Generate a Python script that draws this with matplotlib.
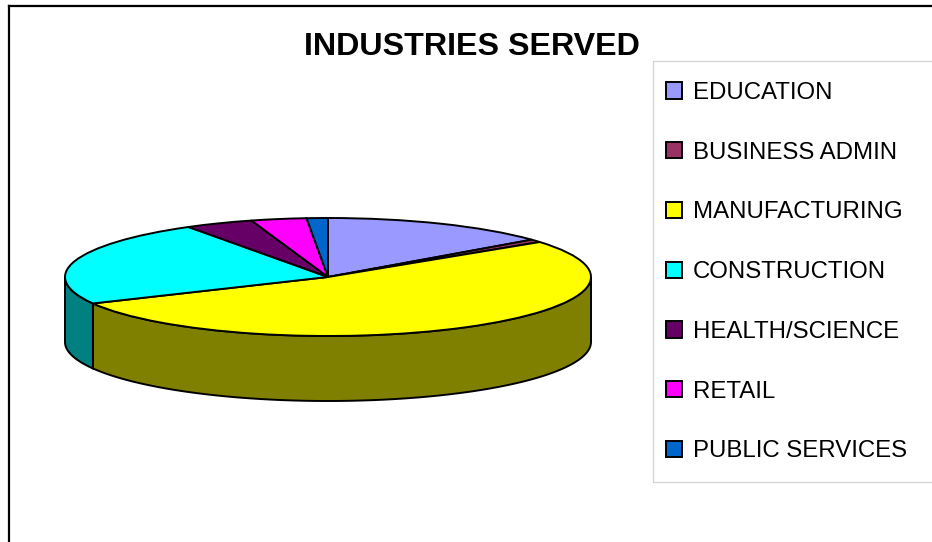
import numpy as np
import matplotlib
matplotlib.use('Agg')
import matplotlib.pyplot as plt
from matplotlib.lines import Line2D
from matplotlib.patches import Rectangle

plt.rcParams['font.family'] = ['Liberation Sans', 'DejaVu Sans']

labels = ['EDUCATION', 'BUSINESS ADMIN', 'MANUFACTURING', 'CONSTRUCTION',
          'HEALTH/SCIENCE', 'RETAIL', 'PUBLIC SERVICES']
values = [14.1, 0.8, 52.7, 23.5, 4.2, 3.4, 1.3]
colors = ['#9999FF', '#993366', '#FFFF00', '#00FFFF', '#660066', '#FF00FF', '#0066CC']

W, H = 932, 542
CX, CY, RX, RY = 328, 277, 263, 59
DEPTH = 65 / RY

fig = plt.figure(figsize=(W / 100, H / 100), dpi=100)
ax = fig.add_axes([0, 0, 1, 1])

wedges, _ = ax.pie(values, colors=colors, startangle=90, counterclock=False,
                   wedgeprops=dict(edgecolor='black', linewidth=1.4, zorder=3))

# stretch the pie into an ellipse: one data unit is RX px across, RY px down
ax.set_aspect('auto')
ax.set_xlim(-CX / RX, (W - CX) / RX)
ax.set_ylim((CY - H) / RY, CY / RY)
ax.axis('off')

# side wall, only the front half of the rim shows
ends = 90 - 360 * np.cumsum(values) / sum(values)
starts = np.r_[90, ends[:-1]]
for a0, a1, c in zip(starts, ends, colors):
    hi = min(a0 % 360 if a0 % 360 > a1 % 360 else a0 % 360 + 360, 360)
    lo = max(a1 % 360, 180)
    if a0 % 360 < a1 % 360:
        lo = max(a1 % 360 - 360, -180) + 360
    if hi <= lo:
        continue
    t = np.radians(np.linspace(lo, hi, 80))
    xs = np.cos(t)
    ys = np.sin(t)
    rgb = np.array(matplotlib.colors.to_rgb(c)) * 0.5
    ax.fill(np.r_[xs, xs[::-1]], np.r_[ys, ys[::-1] - DEPTH], facecolor=rgb,
            edgecolor='black', linewidth=1.4, zorder=2)

fig.text(472 / W, 1 - 47 / H, 'INDUSTRIES SERVED', fontsize=23.2, fontweight='bold',
         ha='center', va='center')

# legend frame runs off the right side
fig.add_artist(Rectangle((652.5 / W, 1 - 481.5 / H), 300 / W, 421 / H, transform=fig.transFigure,
                         facecolor='none', edgecolor='#D4D4D4', linewidth=0.9))
fig.legend(wedges, labels, frameon=False, loc='upper left',
           bbox_to_anchor=(654 / W, 1 - 70 / H), bbox_transform=fig.transFigure,
           fontsize=17.3, handlelength=0.67, handleheight=0.67, handletextpad=0.46,
           labelspacing=1.57, borderpad=0.5, borderaxespad=0)

# chart border, top and left only
fig.add_artist(Line2D([8 / W, 1], [1 - 4.5 / H, 1 - 4.5 / H], color='#808080', linewidth=0.8))
fig.add_artist(Line2D([8.8 / W, 1], [1 - 6 / H, 1 - 6 / H], color='black', linewidth=1.6))
fig.add_artist(Line2D([8.8 / W, 8.8 / W], [0, 1 - 6 / H], color='black', linewidth=1.6))

fig.savefig('out.png', dpi=100)
